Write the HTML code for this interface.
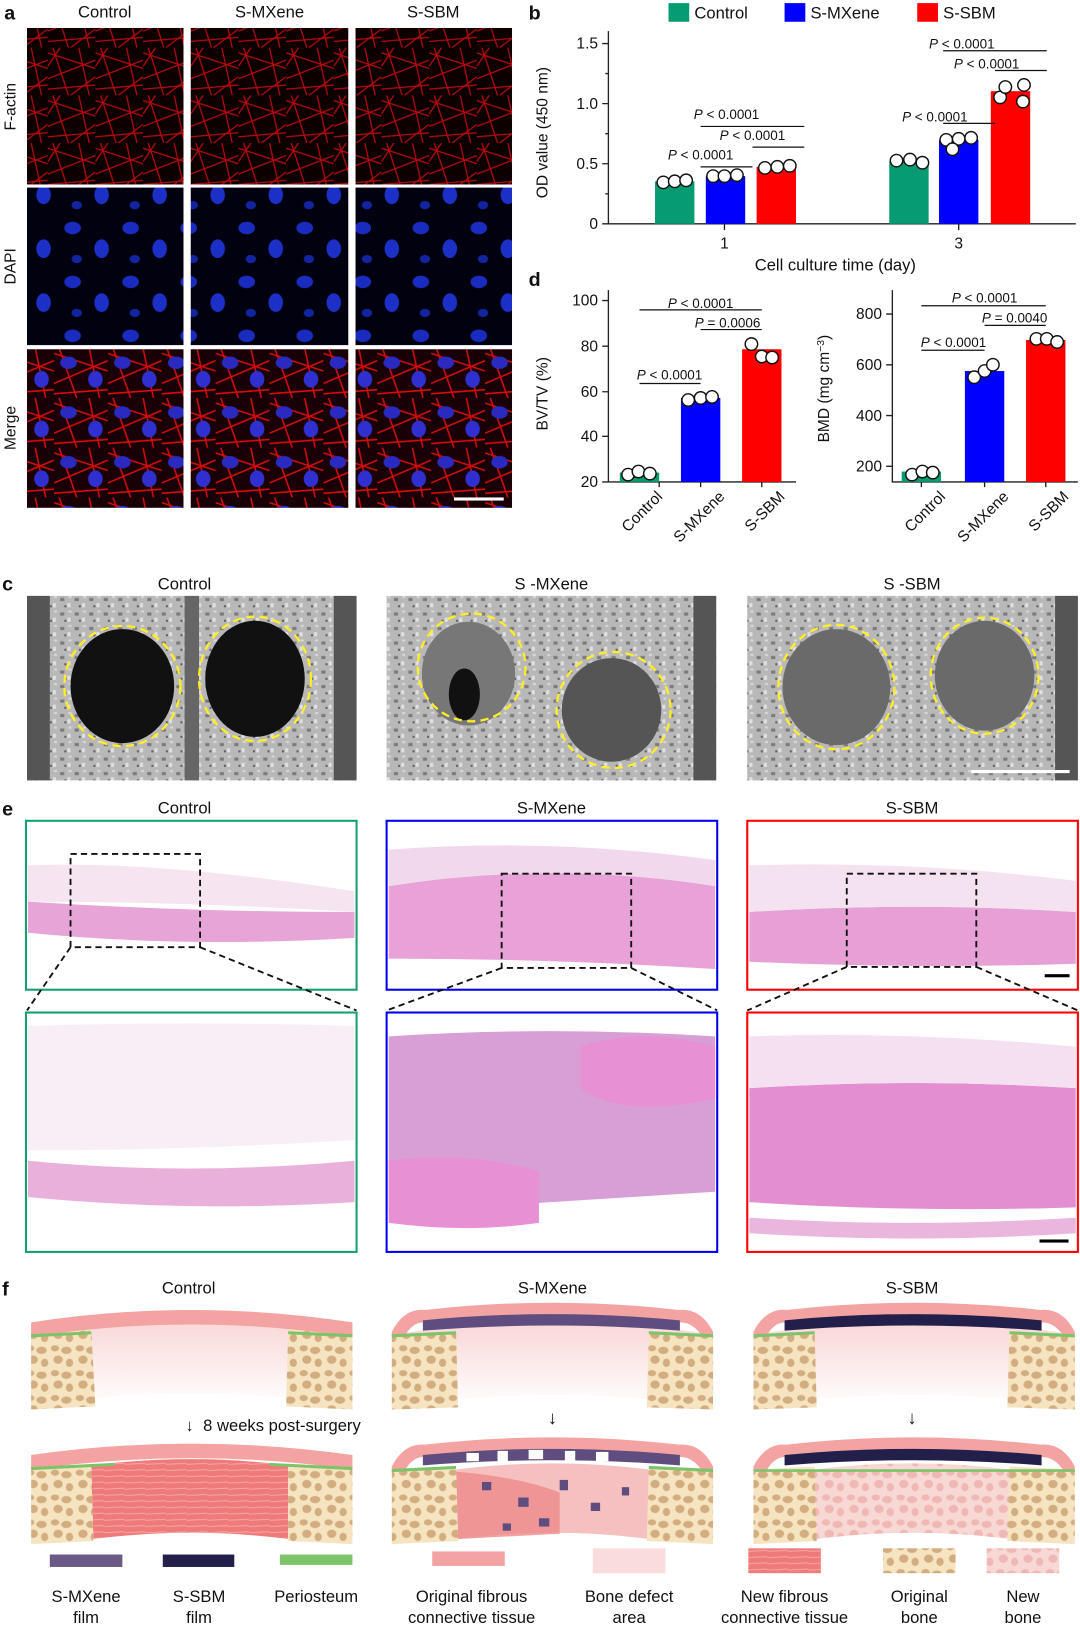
<!DOCTYPE html>
<html><head><meta charset="utf-8"><style>
html,body{margin:0;padding:0;background:#fff}
svg{display:block}
text{font-family:"Liberation Sans",Arial,sans-serif;fill:#111}
</style></head><body>
<svg width="1080" height="1625" viewBox="0 0 1042 1568" xmlns="http://www.w3.org/2000/svg">
<defs>
<pattern id="actin" width="46" height="46" patternUnits="userSpaceOnUse">
<rect width="46" height="46" fill="#0c0000"/>
<g stroke="#d80c0c" stroke-width="1.2" fill="none" opacity="0.85">
<path d="M0 5 L46 20"/><path d="M0 30 L46 12"/><path d="M5 0 L20 46"/><path d="M30 0 L40 46"/>
<path d="M0 40 L46 36"/><path d="M12 0 L0 18"/><path d="M46 28 L22 46"/>
</g>
</pattern>
<pattern id="dapi" width="56" height="52" patternUnits="userSpaceOnUse">
<rect width="56" height="52" fill="#01010f"/>
<ellipse cx="14" cy="12" rx="8" ry="6" fill="#1a2cc0"/>
<ellipse cx="42" cy="32" rx="7" ry="9" fill="#1c30c8"/>
<ellipse cx="18" cy="42" rx="5" ry="4" fill="#1224a0"/>
</pattern>
<pattern id="merge" width="52" height="48" patternUnits="userSpaceOnUse">
<rect width="52" height="48" fill="#180006"/>
<g stroke="#d80c0c" stroke-width="1.5" fill="none"><path d="M0 5 L52 22"/><path d="M0 34 L52 12"/><path d="M5 0 L22 48"/><path d="M34 0 L44 48"/><path d="M0 44 L52 40"/></g>
<ellipse cx="14" cy="14" rx="8" ry="6" fill="#2a2ac0"/>
<ellipse cx="40" cy="30" rx="7" ry="8" fill="#3030d0"/>
</pattern>
<pattern id="ct" width="14" height="14" patternUnits="userSpaceOnUse">
<rect width="14" height="14" fill="#b8b8b8"/>
<rect x="2" y="3" width="4" height="3" fill="#7a7a7a"/><rect x="9" y="8" width="3" height="4" fill="#e0e0e0"/><rect x="6" y="10" width="2" height="2" fill="#606060"/><rect x="10" y="1" width="3" height="2" fill="#d8d8d8"/>
</pattern>
<pattern id="bone" width="24" height="24" patternUnits="userSpaceOnUse">
<rect width="24" height="24" fill="#f6e3c0"/>
<g fill="#d2ad80"><ellipse cx="5" cy="5" rx="4" ry="3"/><ellipse cx="16" cy="7" rx="5" ry="3.5"/><ellipse cx="8" cy="16" rx="4.5" ry="4"/><ellipse cx="19" cy="19" rx="3.5" ry="4"/></g>
</pattern>
<pattern id="nbone" width="24" height="24" patternUnits="userSpaceOnUse">
<rect width="24" height="24" fill="#f8d8d4"/>
<g fill="#f0b8b4"><ellipse cx="5" cy="5" rx="4" ry="3"/><ellipse cx="16" cy="7" rx="5" ry="3.5"/><ellipse cx="8" cy="16" rx="4.5" ry="4"/><ellipse cx="19" cy="19" rx="3.5" ry="4"/></g>
</pattern>
<pattern id="fib" width="20" height="6" patternUnits="userSpaceOnUse">
<rect width="20" height="6" fill="#ef7a7a"/><path d="M0 3 L20 2" stroke="#f6a6a6" stroke-width="1"/>
</pattern>
<linearGradient id="def" x1="0" y1="0" x2="0" y2="1"><stop offset="0" stop-color="#f9d6d6"/><stop offset="1" stop-color="#fff"/></linearGradient>
</defs>

<text x="4" y="19" font-size="19" font-weight="bold">a</text>
<g font-size="16" text-anchor="middle"><text x="101" y="17">Control</text><text x="260" y="17">S-MXene</text><text x="418" y="17">S-SBM</text></g>
<g font-size="15" text-anchor="middle">
<text transform="translate(15,103) rotate(-90)">F-actin</text>
<text transform="translate(15,257) rotate(-90)">DAPI</text>
<text transform="translate(15,413) rotate(-90)">Merge</text>
</g>
<g>
<rect x="26" y="27" width="151" height="151" fill="url(#actin)"/><rect x="184" y="27" width="152" height="151" fill="url(#actin)"/><rect x="343" y="27" width="151" height="151" fill="url(#actin)"/>
<rect x="26" y="181" width="151" height="152" fill="url(#dapi)"/><rect x="184" y="181" width="152" height="152" fill="url(#dapi)"/><rect x="343" y="181" width="151" height="152" fill="url(#dapi)"/>
<rect x="26" y="337" width="151" height="153" fill="url(#merge)"/><rect x="184" y="337" width="152" height="153" fill="url(#merge)"/><rect x="343" y="337" width="151" height="153" fill="url(#merge)"/>
<rect x="438" y="480" width="48" height="3" fill="#fff"/>
</g>

<text x="510" y="19" font-size="19" font-weight="bold">b</text>
<rect x="645" y="3" width="20" height="18" fill="#079b72"/><text x="670" y="18" font-size="16">Control</text>
<rect x="757" y="3" width="20" height="18" fill="#0000ff"/><text x="782" y="18" font-size="16">S-MXene</text>
<rect x="885" y="3" width="20" height="18" fill="#ff0000"/><text x="910" y="18" font-size="16">S-SBM</text>
<g stroke="#222" stroke-width="1.3" fill="none">
<path d="M587 30 V216 H1038"/>
<path d="M581 216H587M581 158H587M581 100H587M581 42H587M584 187H587M584 129H587M584 71H587M699 216V222M925 216V222"/>
</g>
<g font-size="15" text-anchor="end"><text x="577" y="221">0</text><text x="577" y="163">0.5</text><text x="577" y="105">1.0</text><text x="577" y="47">1.5</text></g>
<text x="699" y="240" font-size="15" text-anchor="middle">1</text><text x="925" y="240" font-size="15" text-anchor="middle">3</text>
<text x="806" y="261" font-size="16" text-anchor="middle">Cell culture time (day)</text>
<text transform="translate(528,128) rotate(-90)" font-size="15" text-anchor="middle">OD value (450 nm)</text>
<rect x="632" y="175" width="38" height="41" fill="#079b72"/><rect x="681" y="170" width="38" height="46" fill="#0000ff"/><rect x="730" y="161" width="38" height="55" fill="#ff0000"/>
<rect x="858" y="156" width="38" height="60" fill="#079b72"/><rect x="906" y="135" width="38" height="81" fill="#0000ff"/><rect x="956" y="88" width="38" height="128" fill="#ff0000"/>
<g fill="#fff" stroke="#111" stroke-width="1.4">
<circle cx="640" cy="176" r="6"/><circle cx="651" cy="175" r="6"/><circle cx="662" cy="174" r="6"/>
<circle cx="688" cy="170" r="6"/><circle cx="699" cy="170" r="6"/><circle cx="711" cy="169" r="6"/>
<circle cx="738" cy="162" r="6"/><circle cx="750" cy="161" r="6"/><circle cx="762" cy="160" r="6"/>
<circle cx="865" cy="155" r="6"/><circle cx="878" cy="154" r="6"/><circle cx="890" cy="157" r="6"/>
<circle cx="913" cy="135" r="6"/><circle cx="925" cy="134" r="6"/><circle cx="937" cy="133" r="6"/><circle cx="919" cy="144" r="6"/>
<circle cx="965" cy="94" r="6"/><circle cx="970" cy="84" r="6"/><circle cx="988" cy="82" r="6"/><circle cx="987" cy="98" r="6"/>
</g>
<g stroke="#111" stroke-width="1.2"><path d="M676 161H726M726 142H776M676 122H776M910 119H960M960 68H1010M910 49H1010"/></g>
<g font-size="13" text-anchor="middle">
<text x="676" y="154"><tspan font-style="italic">P</tspan> &lt; 0.0001</text>
<text x="726" y="135"><tspan font-style="italic">P</tspan> &lt; 0.0001</text>
<text x="701" y="115"><tspan font-style="italic">P</tspan> &lt; 0.0001</text>
<text x="902" y="117"><tspan font-style="italic">P</tspan> &lt; 0.0001</text>
<text x="952" y="66"><tspan font-style="italic">P</tspan> &lt; 0.0001</text>
<text x="928" y="47"><tspan font-style="italic">P</tspan> &lt; 0.0001</text>
</g>

<text x="510" y="276" font-size="19" font-weight="bold">d</text>
<g stroke="#222" stroke-width="1.3" fill="none">
<path d="M587 280V465H768M581 465H587M581 421H587M581 378H587M581 334H587M581 290H587M636 465V470M676 465V470M735 465V470"/>
<path d="M861 280V465H1040M855 450H861M855 401H861M855 352H861M855 303H861M889 465V470M950 465V470M1009 465V470"/>
</g>
<g font-size="15" text-anchor="end"><text x="577" y="470">20</text><text x="577" y="426">40</text><text x="577" y="383">60</text><text x="577" y="339">80</text><text x="577" y="295">100</text>
<text x="851" y="455">200</text><text x="851" y="406">400</text><text x="851" y="357">600</text><text x="851" y="308">800</text></g>
<text transform="translate(528,380) rotate(-90)" font-size="15" text-anchor="middle">BV/TV (%)</text>
<text transform="translate(800,375) rotate(-90)" font-size="15" text-anchor="middle">BMD (mg cm<tspan dy="-5" font-size="10">−3</tspan><tspan dy="5">)</tspan></text>
<rect x="598" y="456" width="38" height="9" fill="#079b72"/><rect x="657" y="384" width="38" height="81" fill="#0000ff"/><rect x="716" y="337" width="38" height="128" fill="#ff0000"/>
<rect x="870" y="455" width="38" height="10" fill="#079b72"/><rect x="931" y="358" width="38" height="107" fill="#0000ff"/><rect x="990" y="328" width="38" height="137" fill="#ff0000"/>
<g fill="#fff" stroke="#111" stroke-width="1.4">
<circle cx="606" cy="458" r="6"/><circle cx="616" cy="455" r="6"/><circle cx="627" cy="457" r="6"/>
<circle cx="664" cy="386" r="6"/><circle cx="676" cy="384" r="6"/><circle cx="687" cy="383" r="6"/>
<circle cx="725" cy="332" r="6"/><circle cx="735" cy="344" r="6"/><circle cx="745" cy="345" r="6"/>
<circle cx="880" cy="458" r="6"/><circle cx="890" cy="455" r="6"/><circle cx="900" cy="456" r="6"/>
<circle cx="940" cy="364" r="6"/><circle cx="950" cy="358" r="6"/><circle cx="958" cy="352" r="6"/>
<circle cx="1000" cy="327" r="6"/><circle cx="1010" cy="327" r="6"/><circle cx="1020" cy="330" r="6"/>
</g>
<g stroke="#111" stroke-width="1.2"><path d="M617 370H676M676 318H735M617 299H735M889 338H950M950 314H1009M889 295H1009"/></g>
<g font-size="13" text-anchor="middle">
<text x="646" y="366"><tspan font-style="italic">P</tspan> &lt; 0.0001</text>
<text x="702" y="316"><tspan font-style="italic">P</tspan> = 0.0006</text>
<text x="676" y="297"><tspan font-style="italic">P</tspan> &lt; 0.0001</text>
<text x="920" y="335"><tspan font-style="italic">P</tspan> &lt; 0.0001</text>
<text x="979" y="311"><tspan font-style="italic">P</tspan> = 0.0040</text>
<text x="950" y="292"><tspan font-style="italic">P</tspan> &lt; 0.0001</text>
</g>
<g font-size="15" text-anchor="end">
<text transform="translate(640,480) rotate(-45)">Control</text>
<text transform="translate(700,480) rotate(-45)">S-MXene</text>
<text transform="translate(758,480) rotate(-45)">S-SBM</text>
<text transform="translate(913,480) rotate(-45)">Control</text>
<text transform="translate(974,480) rotate(-45)">S-MXene</text>
<text transform="translate(1032,480) rotate(-45)">S-SBM</text>
</g>

<text x="2" y="570" font-size="19" font-weight="bold">c</text>
<g font-size="16" text-anchor="middle"><text x="178" y="569">Control</text><text x="532" y="569">S -MXene</text><text x="880" y="569">S -SBM</text></g>
<rect x="26" y="575" width="318" height="178" fill="url(#ct)"/>
<rect x="26" y="575" width="22" height="178" fill="#555"/><rect x="322" y="575" width="22" height="178" fill="#555"/><rect x="178" y="575" width="14" height="178" fill="#666"/>
<ellipse cx="118" cy="662" rx="50" ry="55" fill="#111"/><ellipse cx="246" cy="655" rx="48" ry="56" fill="#111"/>
<rect x="373" y="575" width="318" height="178" fill="url(#ct)"/>
<rect x="669" y="575" width="22" height="178" fill="#555"/>
<ellipse cx="452" cy="650" rx="45" ry="50" fill="#777"/><ellipse cx="448" cy="670" rx="15" ry="25" fill="#111"/><ellipse cx="590" cy="685" rx="48" ry="50" fill="#555"/>
<rect x="721" y="575" width="319" height="178" fill="url(#ct)"/>
<rect x="1018" y="575" width="22" height="178" fill="#555"/>
<ellipse cx="807" cy="663" rx="52" ry="56" fill="#6a6a6a"/><ellipse cx="950" cy="652" rx="48" ry="53" fill="#6a6a6a"/>
<g fill="none" stroke="#ffee22" stroke-width="2.2" stroke-dasharray="8 5">
<ellipse cx="118" cy="662" rx="56" ry="58"/><ellipse cx="246" cy="655" rx="54" ry="60"/>
<ellipse cx="455" cy="644" rx="52" ry="52"/><ellipse cx="592" cy="685" rx="55" ry="56"/>
<ellipse cx="807" cy="663" rx="56" ry="60"/><ellipse cx="950" cy="652" rx="52" ry="56"/>
</g>
<rect x="937" y="743" width="95" height="3" fill="#fff"/>

<text x="2" y="787" font-size="19" font-weight="bold">e</text>
<g font-size="16" text-anchor="middle"><text x="178" y="785">Control</text><text x="532" y="785">S-MXene</text><text x="880" y="785">S-SBM</text></g>
<rect x="25" y="792" width="319" height="163" fill="#fff" stroke="#14a06e" stroke-width="2"/>
<path d="M27 870 Q180 880 342 880 V905 Q180 915 27 900Z" fill="#e7a4d6"/>
<path d="M27 835 Q150 830 342 860 V880 Q180 870 27 870Z" fill="#f6e4f0"/>
<rect x="373" y="792" width="319" height="163" fill="#fff" stroke="#0000ee" stroke-width="2"/>
<path d="M375 855 Q530 830 690 855 V935 Q530 925 375 925Z" fill="#e8a2d8"/>
<path d="M375 820 Q530 808 690 830 V855 Q530 830 375 855Z" fill="#f1d8ec"/>
<rect x="721" y="792" width="319" height="163" fill="#fff" stroke="#ff0000" stroke-width="2"/>
<path d="M723 880 Q880 870 1038 880 V930 Q880 935 723 928Z" fill="#e6a0d6"/>
<path d="M723 835 Q880 830 1038 850 V880 Q880 870 723 880Z" fill="#f4e2f0"/>
<rect x="1008" y="940" width="24" height="3" fill="#000"/>
<g fill="none" stroke="#111" stroke-width="1.8" stroke-dasharray="6 4">
<rect x="68" y="824" width="125" height="90"/><rect x="484" y="843" width="125" height="91"/><rect x="817" y="843" width="125" height="90"/>
<path d="M68 914 L26 975M193 914 L344 975M484 934 L373 975M609 934 L692 975M817 933 L721 975M942 933 L1040 975"/>
</g>
<rect x="25" y="977" width="319" height="231" fill="#fff" stroke="#14a06e" stroke-width="2"/>
<path d="M27 990 Q180 985 342 990 V1100 Q180 1110 27 1110Z" fill="#f8eef6"/>
<path d="M27 1120 Q180 1135 342 1120 V1160 Q180 1170 27 1155Z" fill="#eab0dc"/>
<rect x="373" y="977" width="319" height="231" fill="#fff" stroke="#0000ee" stroke-width="2"/>
<path d="M375 1000 Q530 990 690 1000 V1150 Q530 1160 375 1170Z" fill="#d89ed6"/>
<path d="M560 1010 Q620 990 690 1010 V1060 Q600 1080 560 1050Z" fill="#e890d4"/>
<path d="M375 1120 Q450 1110 520 1130 V1180 Q450 1190 375 1180Z" fill="#e890d4"/>
<rect x="721" y="977" width="319" height="231" fill="#fff" stroke="#ff0000" stroke-width="2"/>
<path d="M723 1050 Q880 1040 1038 1050 V1165 Q880 1170 723 1160Z" fill="#e48ed2"/>
<path d="M723 1000 Q880 995 1038 1010 V1050 Q880 1040 723 1050Z" fill="#f4e0f0"/>
<path d="M723 1175 Q880 1185 1038 1175 V1190 Q880 1200 723 1190Z" fill="#eab6de"/>
<rect x="1003" y="1196" width="28" height="3" fill="#000"/>

<text x="2" y="1250" font-size="19" font-weight="bold">f</text>
<g font-size="16" text-anchor="middle"><text x="182" y="1248">Control</text><text x="533" y="1248">S-MXene</text><text x="880" y="1248">S-SBM</text></g>
<path d="M30 1285 Q185 1260 340 1285 V1357 Q185 1332 30 1357Z" fill="url(#def)"/>
<path d="M30 1286 L88 1283 L92 1357 L30 1360Z" fill="url(#bone)"/>
<path d="M278 1283 L340 1286 L340 1360 L276 1357Z" fill="url(#bone)"/>
<path d="M30 1276 Q185 1252 340 1276 V1290 Q185 1266 30 1290Z" fill="#f4a3a3"/>
<path d="M30 1289 L88 1286" stroke="#7cc36a" stroke-width="3"/><path d="M278 1286 L340 1289" stroke="#7cc36a" stroke-width="3"/>
<text x="183" y="1381" font-size="16" text-anchor="middle">↓</text><text x="196" y="1381" font-size="16">8 weeks post-surgery</text>
<text x="533" y="1374" font-size="18" text-anchor="middle">↓</text><text x="880" y="1374" font-size="18" text-anchor="middle">↓</text>
<path d="M88 1414 Q185 1402 278 1414 V1485 Q185 1473 90 1485Z" fill="url(#fib)"/>
<path d="M30 1416 L88 1413 L90 1487 L30 1490Z" fill="url(#bone)"/><path d="M278 1413 L340 1416 L340 1490 L278 1487Z" fill="url(#bone)"/>
<path d="M30 1404 Q185 1382 340 1404 V1418 Q185 1396 30 1418Z" fill="#f4a3a3"/>
<path d="M30 1417 L110 1413M260 1413 L340 1417" stroke="#7cc36a" stroke-width="3"/>
<path d="M378 1288 Q533 1262 688 1288 V1358 Q533 1334 378 1358Z" fill="url(#def)"/>
<path d="M378 1288 L440 1285 L442 1358 L378 1360Z" fill="url(#bone)"/><path d="M626 1285 L688 1288 L688 1360 L624 1358Z" fill="url(#bone)"/>
<path d="M378 1285 Q390 1262 410 1264 Q533 1250 655 1264 Q676 1262 688 1285 V1290 L678 1290 Q668 1275 655 1276 Q533 1262 410 1276 Q398 1275 390 1290 L378 1290Z" fill="#f4a3a3"/>
<path d="M408 1274 Q533 1262 656 1274 V1284 Q533 1274 408 1284Z" fill="#5e4d7e"/>
<path d="M378 1289 L440 1286M626 1286 L688 1289" stroke="#7cc36a" stroke-width="3"/>
<path d="M440 1418 Q533 1406 626 1418 V1485 Q533 1473 442 1485Z" fill="#f6c0c0"/>
<path d="M440 1420 Q500 1425 540 1440 V1480 L442 1485Z" fill="#ef8a8a" opacity="0.8"/>
<g fill="#5e4d7e"><rect x="465" y="1430" width="9" height="8"/><rect x="500" y="1445" width="10" height="9"/><rect x="540" y="1428" width="8" height="10"/><rect x="570" y="1450" width="9" height="8"/><rect x="520" y="1465" width="10" height="8"/><rect x="485" y="1470" width="8" height="7"/><rect x="600" y="1435" width="7" height="8"/></g>
<path d="M378 1418 L440 1415 L442 1487 L378 1490Z" fill="url(#bone)"/><path d="M626 1415 L688 1418 L688 1490 L624 1487Z" fill="url(#bone)"/>
<path d="M378 1415 Q390 1392 410 1394 Q533 1380 655 1394 Q676 1392 688 1415 V1420 L678 1420 Q668 1405 655 1406 Q533 1392 410 1406 Q398 1405 390 1420 L378 1420Z" fill="#f4a3a3"/>
<path d="M408 1404 Q533 1392 656 1404 V1414 Q533 1404 408 1414Z" fill="#5e4d7e"/>
<g fill="#fff"><rect x="450" y="1402" width="12" height="8"/><rect x="480" y="1400" width="10" height="10"/><rect x="510" y="1399" width="14" height="9"/><rect x="545" y="1400" width="10" height="10"/><rect x="575" y="1401" width="12" height="9"/></g>
<path d="M378 1419 L440 1416M626 1416 L688 1419" stroke="#7cc36a" stroke-width="3"/>
<path d="M727 1288 Q882 1262 1037 1288 V1358 Q882 1334 727 1358Z" fill="url(#def)"/>
<path d="M727 1288 L786 1285 L788 1358 L727 1360Z" fill="url(#bone)"/><path d="M974 1285 L1037 1288 L1037 1360 L972 1358Z" fill="url(#bone)"/>
<path d="M727 1285 Q739 1262 759 1264 Q882 1250 1004 1264 Q1025 1262 1037 1285 V1290 L1027 1290 Q1017 1275 1004 1276 Q882 1262 759 1276 Q747 1275 739 1290 L727 1290Z" fill="#f4a3a3"/>
<path d="M757 1274 Q882 1262 1005 1274 V1284 Q882 1274 757 1284Z" fill="#22204a"/>
<path d="M727 1289 L786 1286M974 1286 L1037 1289" stroke="#7cc36a" stroke-width="3"/>
<path d="M786 1418 Q882 1406 974 1418 V1485 Q882 1473 788 1485Z" fill="url(#nbone)"/>
<path d="M727 1418 L786 1415 L788 1487 L727 1490Z" fill="url(#bone)"/><path d="M974 1415 L1037 1418 L1037 1490 L972 1487Z" fill="url(#bone)"/>
<path d="M727 1415 Q739 1392 759 1394 Q882 1380 1004 1394 Q1025 1392 1037 1415 V1420 L1027 1420 Q1017 1405 1004 1406 Q882 1392 759 1406 Q747 1405 739 1420 L727 1420Z" fill="#f4a3a3"/>
<path d="M757 1404 Q882 1392 1005 1404 V1414 Q882 1404 757 1414Z" fill="#22204a"/>
<path d="M727 1419 L1037 1419" stroke="#7cc36a" stroke-width="2.5"/>
<rect x="48" y="1500" width="70" height="12" fill="#6b5a86"/>
<rect x="157" y="1500" width="69" height="12" fill="#22204a"/>
<rect x="270" y="1500" width="70" height="10" fill="#7cc36a"/>
<rect x="417" y="1497" width="70" height="14" fill="#f4a3a3"/>
<rect x="572" y="1494" width="70" height="24" fill="#fadcdc"/>
<rect x="722" y="1494" width="70" height="24" fill="url(#fib)"/>
<rect x="852" y="1494" width="70" height="24" fill="url(#bone)"/>
<rect x="952" y="1494" width="70" height="24" fill="url(#nbone)"/>
<g font-size="16" text-anchor="middle">
<text x="83" y="1546">S-MXene</text><text x="83" y="1566">film</text>
<text x="192" y="1546">S-SBM</text><text x="192" y="1566">film</text>
<text x="305" y="1546">Periosteum</text>
<text x="455" y="1546">Original fibrous</text><text x="455" y="1566">connective tissue</text>
<text x="607" y="1546">Bone defect</text><text x="607" y="1566">area</text>
<text x="757" y="1546">New fibrous</text><text x="757" y="1566">connective tissue</text>
<text x="887" y="1546">Original</text><text x="887" y="1566">bone</text>
<text x="987" y="1546">New</text><text x="987" y="1566">bone</text>
</g>
</svg>
</body></html>
